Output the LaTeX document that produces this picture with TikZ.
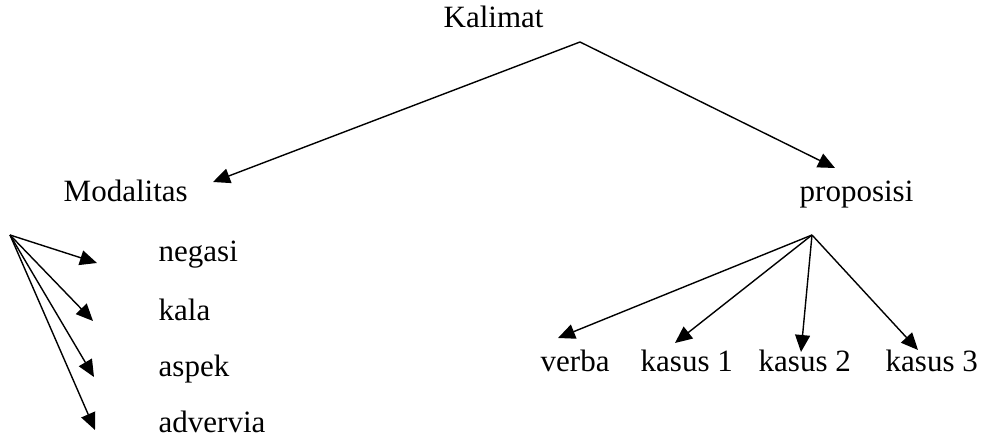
\documentclass[tikz,border=0pt]{standalone}
\usepackage{fontspec}
\setmainfont{Liberation Serif}
\usetikzlibrary{arrows.meta,positioning}

\begin{document}
\begin{tikzpicture}[x=0.5pt,y=-0.5pt,line width=0.7pt,-{Triangle[length=8.5pt,width=7.5pt]}]
    \tikzstyle{word}=[anchor=base west, inner sep=0pt, font=\fontsize{15.5}{18}\selectfont]
    \useasboundingbox (0,0) rectangle (981,443);

    % text
    \node[word] (kal)  at (443,28)  {Kalimat};
    \node[word] (mod)  at (63,202)  {Modalitas};
    \node[word] (prop) at (799,202) {proposisi};
    \node[word] (neg)  at (158,262) {negasi};
    \node[word] (kala) at (158,321) {kala};
    \node[word] (asp)  at (158,377) {aspek};
    \node[word] (adv)  at (158,433) {advervia};
    \node[word] (verb) at (540,372) {verba};
    \node[word] (ks1)  at (640,372) {kasus 1};
    \node[word] (ks2)  at (758,372) {kasus 2};
    \node[word] (ks3)  at (885,372) {kasus 3};

    % branch points and arrow tips
    \coordinate (kal0)  at (580,42);
    \coordinate (mod0)  at (10,235);
    \coordinate (prop0) at (812,235);
    \coordinate (modT)  at (213,182);
    \coordinate (propT) at (835,168);
    \coordinate (negT)  at (97,263);
    \coordinate (kalaT) at (93,321);
    \coordinate (aspT)  at (94,377);
    \coordinate (advT)  at (95,430);
    \coordinate (verbT) at (558,338);
    \coordinate (ks1T)  at (675,343);
    \coordinate (ks2T)  at (801,352);
    \coordinate (ks3T)  at (918,350);

    \draw (kal0) -- (modT);
    \draw (kal0) -- (propT);
    \foreach \t in {negT,kalaT,aspT,advT}
      \draw (mod0) -- (\t);
    \foreach \t in {verbT,ks1T,ks2T,ks3T}
      \draw (prop0) -- (\t);

\end{tikzpicture}
\end{document}
